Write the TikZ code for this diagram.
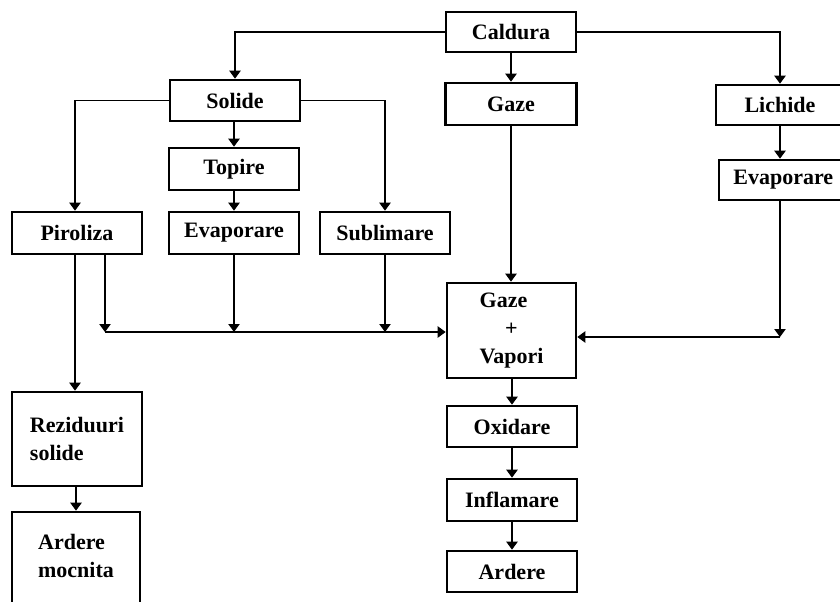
\documentclass[tikz,border=0pt]{standalone}
\usepackage{fontspec}
\setmainfont{Liberation Serif}
\usetikzlibrary{arrows.meta}
\begin{document}
\begin{tikzpicture}[x=0.75pt,y=-0.75pt,
  txt/.style={font=\bfseries\fontsize{16.5}{21}\selectfont},
  box/.style={draw,line width=2pt,inner sep=0pt,txt},
  sz/.style 2 args={minimum width=#1*0.75pt,minimum height=#2*0.75pt},
  arr/.style={line width=1pt,-{Triangle[length=6pt,width=8.5pt]}}]
\clip (0,0) rectangle (840,601);
\fill[white] (0,0) rectangle (840,601);
\node[box,sz={130}{40}] (caldura) at (511,32) {Caldura};
\node[box,sz={130}{41}] (solide) at (235,100.5) {Solide};
\node[box,sz={131}{42}] (gaze) at (511,104) {Gaze};
\node[box,sz={128}{40}] (lichide) at (780,105) {Lichide};
\node[box,sz={130}{42}] (topire) at (234,169) {Topire};
\node[box,sz={130}{42}] (piroliza) at (77,233) {Piroliza};
\node[box,sz={130}{42}] (evapm) at (234,233) {Evaporare};
\node[box,sz={130}{42}] (sublim) at (385,233) {Sublimare};
\node[box,sz={122}{40}] (evapr) at (780,180) {\hspace*{5pt}Evaporare};
\node[box,sz={129}{95},align=center] (gv) at (511.5,330.5) {Gaze\hspace*{12pt}\\+\\Vapori};
\node[box,sz={130}{94},align=left] (rez) at (77,439) {Reziduuri\\solide};
\node[box,sz={128}{108}] (mocn) at (76,566) {};
\node[txt,align=left,inner sep=0pt] (mocnt) at (76,556) {Ardere\\mocnita};
\node[box,sz={130}{41}] (oxid) at (512,426.5) {Oxidare};
\node[box,sz={130}{42}] (infl) at (512,500) {Inflamare};
\node[box,sz={130}{41}] (ard) at (512,571.5) {Ardere};
% junction coordinates
\coordinate (jl) at (105,332);
\coordinate (jr) at (780,337);
\coordinate (pd) at (75,0);
% connectors
\draw[arr] (caldura.west) -| (solide.north);
\draw[arr] (caldura.east) -| (lichide.north);
\draw[arr] (caldura.south) -- (caldura.south |- gaze.north);
\draw[arr] (solide.west) -| (piroliza.north -| pd);
\draw[arr] (solide.east) -| (sublim.north);
\draw[arr] (solide.south -| topire) -- (topire.north);
\draw[arr] (topire) -- (evapm);
\draw[arr] (lichide) -- (evapr);
\draw[arr] (gaze.south) -- (gaze.south |- gv.north);
\draw[arr] (piroliza.south -| jl) -- (jl);
\draw[arr] (evapm.south) -- (evapm.south |- jl);
\draw[arr] (sublim.south) -- (sublim.south |- jl);
\draw[arr] (jl) -- (gv.west |- jl);
\draw[arr] (evapr.south -| jr) -- (jr);
\draw[arr] (jr) -- (gv.east |- jr);
\draw[arr] (piroliza.south -| pd) -- (rez.north -| pd);
\draw[arr] (rez.south -| mocn) -- (mocn.north);
\draw[arr] (gv.south -| oxid) -- (oxid.north);
\draw[arr] (oxid) -- (infl);
\draw[arr] (infl) -- (ard);
\end{tikzpicture}
\end{document}
